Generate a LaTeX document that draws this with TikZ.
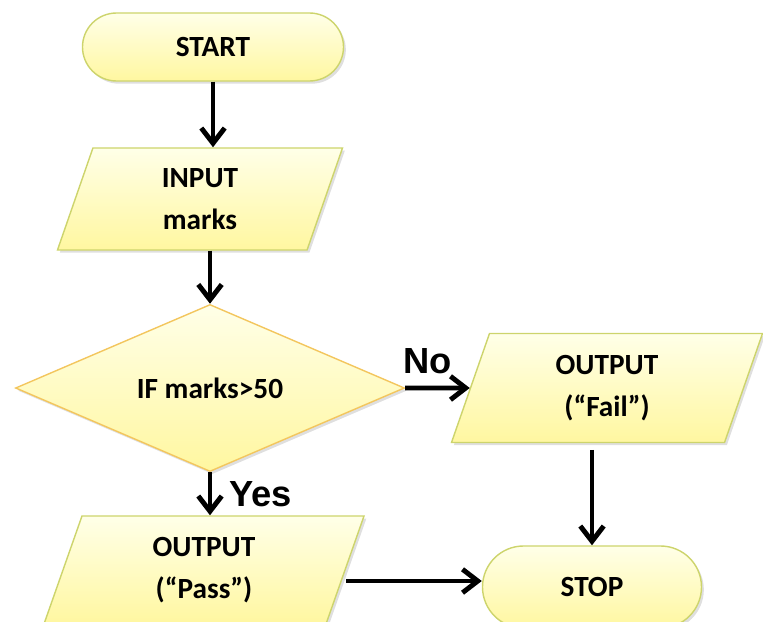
\documentclass[tikz,border=0pt]{standalone}
\usepackage{fontspec}
\setmainfont{Carlito}
\newfontfamily\yesnofont{Liberation Sans}
\usepackage{tikz}
\usetikzlibrary{arrows.meta}
\usetikzlibrary{shapes.geometric}
\usetikzlibrary{shapes.misc}
\usetikzlibrary{shadows}

\definecolor{boxtop}{HTML}{FFFFE8}
\definecolor{boxbottom}{HTML}{FFF7A0}
\definecolor{boxline}{HTML}{CDD46C}
\definecolor{decline}{HTML}{F3C65E}

\begin{document}
\begin{tikzpicture}[x = 0.03cm, y = -0.03cm,
	box/.style = {top color = boxtop, bottom color = boxbottom, draw = boxline, line width = 1.2pt,
		font = \fontsize{25}{36}\selectfont\bfseries, align = center, inner sep = 0pt,
		drop shadow = {shadow xshift = 0.07cm, shadow yshift = -0.08cm, opacity = 0.25}},
	terminal/.style = {box, rounded rectangle},
	io/.style = {box, trapezium, trapezium left angle = 60, trapezium right angle = 120, trapezium stretches body},
	decision/.style = {box, diamond, draw = decline},
	flow/.style = {-{Straight Barb[length = 13pt, width = 20pt]}, line width = 4.2pt},
	answer/.style = {font = \yesnofont\fontsize{31}{31}\selectfont\bfseries}]
	\useasboundingbox (0,0) rectangle (763,621);
	
	\node [terminal, minimum width = 7.83cm, minimum height = 2.04cm] (start) at (213,47) {START};
	\node [io, minimum width = 8.55cm, minimum height = 3.06cm] (input) at (200,199) {INPUT\\marks};
	\node [decision, minimum width = 11.67cm, minimum height = 4.47cm] (ifmarks) at (210,388) {IF marks>50};
	\node [io, minimum width = 9.33cm, minimum height = 3.27cm] (fail) at (607,388) {OUTPUT\\(“Fail”)};
	\node [io, minimum width = 9.6cm, minimum height = 3.24cm] (pass) at (204,570) {OUTPUT\\(“Pass”)};
	\node [terminal, minimum width = 6.57cm, minimum height = 2.46cm] (stop) at (592,587) {STOP};
	
	\draw [flow] (start.south) -- (start.south |- input.north);
	\draw [flow] (input.south -| ifmarks.north) -- (ifmarks.north);
	\draw [flow] (ifmarks.east) -- (fail) node [answer, above, pos = 0.35, yshift = 7pt] (no) {No};
	\draw [flow] (ifmarks.south) -- (ifmarks.south |- pass.north) node [answer, right, midway, xshift = 11pt] (yes) {Yes};
	\draw [flow, shorten <= 0.2cm] (fail.south -| stop.north) -- (stop.north);
	\draw [flow] ([yshift = -0.33cm]pass.east) -- ([yshift = -0.33cm]pass.east -| stop.west);
\end{tikzpicture}
\end{document}
